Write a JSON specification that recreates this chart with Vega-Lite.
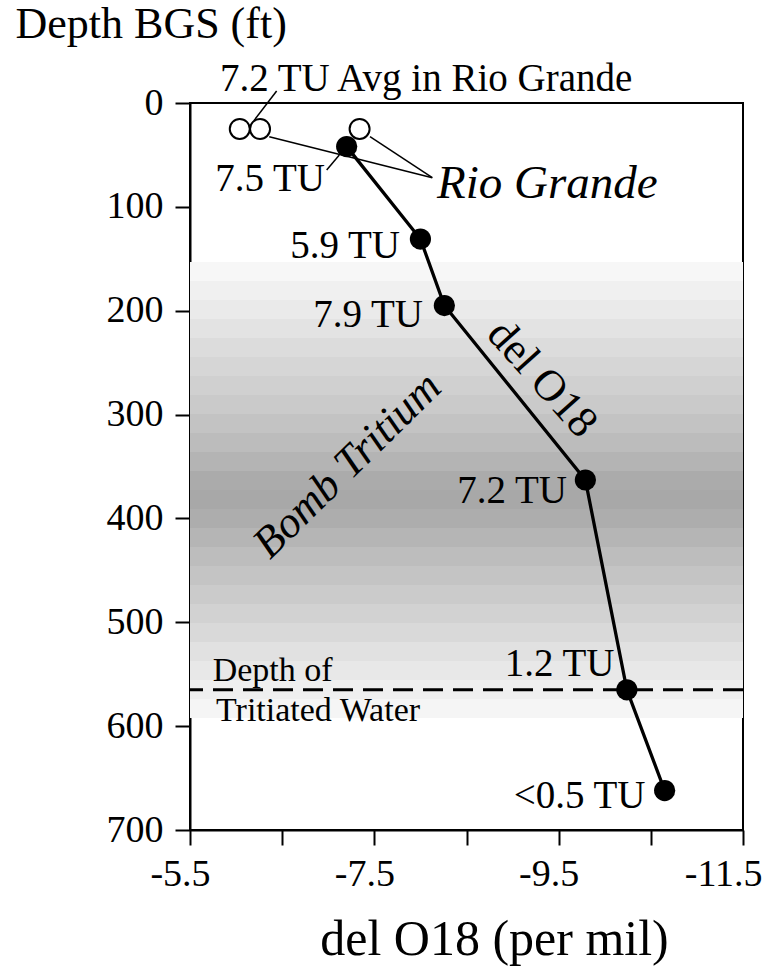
{
  "$schema": "https://vega.github.io/schema/vega-lite/v6.json",
  "autosize": {"type": "none"},
  "width": 553,
  "height": 727,
  "padding": {"left": 190, "top": 103, "right": 22, "bottom": 140},
  "background": "white",
  "config": {
    "view": {"stroke": "black", "strokeWidth": 2},
    "font": "Liberation Serif",
    "axis": {"grid": false, "domainColor": "black", "domainWidth": 2, "tickColor": "black", "tickWidth": 2, "tickSize": 15, "labelColor": "black", "titleColor": "black", "labelFont": "Liberation Serif", "titleFont": "Liberation Serif", "titleFontWeight": "normal"}
  },
  "datasets": {
    "band": [
      {"depth": 153.0, "depth2": 171.3, "intensity": 0.0},
      {"depth": 171.3, "depth2": 189.6, "intensity": 0.09},
      {"depth": 189.6, "depth2": 207.9, "intensity": 0.16},
      {"depth": 207.9, "depth2": 226.2, "intensity": 0.25},
      {"depth": 226.2, "depth2": 244.5, "intensity": 0.34},
      {"depth": 244.5, "depth2": 262.8, "intensity": 0.42},
      {"depth": 262.8, "depth2": 281.1, "intensity": 0.49},
      {"depth": 281.1, "depth2": 299.4, "intensity": 0.57},
      {"depth": 299.4, "depth2": 317.7, "intensity": 0.66},
      {"depth": 317.7, "depth2": 336.0, "intensity": 0.75},
      {"depth": 336.0, "depth2": 354.3, "intensity": 0.85},
      {"depth": 354.3, "depth2": 372.6, "intensity": 0.96},
      {"depth": 372.6, "depth2": 390.9, "intensity": 1.0},
      {"depth": 390.9, "depth2": 409.2, "intensity": 0.94},
      {"depth": 409.2, "depth2": 427.5, "intensity": 0.84},
      {"depth": 427.5, "depth2": 445.8, "intensity": 0.73},
      {"depth": 445.8, "depth2": 464.1, "intensity": 0.65},
      {"depth": 464.1, "depth2": 482.4, "intensity": 0.56},
      {"depth": 482.4, "depth2": 500.7, "intensity": 0.47},
      {"depth": 500.7, "depth2": 519.0, "intensity": 0.38},
      {"depth": 519.0, "depth2": 537.3, "intensity": 0.28},
      {"depth": 537.3, "depth2": 555.6, "intensity": 0.19},
      {"depth": 555.6, "depth2": 573.9, "intensity": 0.10},
      {"depth": 573.9, "depth2": 592.2, "intensity": 0.03}
    ],
    "profile": [
      {"o18": -7.20, "depth": 42},
      {"o18": -8.00, "depth": 131},
      {"o18": -8.26, "depth": 195},
      {"o18": -9.79, "depth": 363},
      {"o18": -10.24, "depth": 565},
      {"o18": -10.65, "depth": 662}
    ],
    "river": [
      {"o18": -6.04, "depth": 25},
      {"o18": -6.26, "depth": 25},
      {"o18": -7.34, "depth": 25}
    ],
    "tritiumDepth": [{"depth": 565}],
    "leaders": [
      {"o18": -6.44, "depth": -11.6, "o18b": -6.194, "depthb": 17.0},
      {"o18": -6.983, "depth": 64.5, "o18b": -7.12, "depthb": 50.1},
      {"o18": -8.129, "depth": 71.9, "o18b": -6.36, "depthb": 32.4},
      {"o18": -8.129, "depth": 71.9, "o18b": -7.453, "depthb": 32.4}
    ],
    "tuLabels": [
      {"o18": -6.965, "depth": 84.7, "label": "7.5 TU"},
      {"o18": -7.778, "depth": 149.2, "label": "5.9 TU"},
      {"o18": -8.028, "depth": 215.2, "label": "7.9 TU"},
      {"o18": -9.59, "depth": 385.1, "label": "7.2 TU"},
      {"o18": -10.106, "depth": 552.2, "label": "1.2 TU"},
      {"o18": -10.442, "depth": 678.8, "label": "<0.5 TU"}
    ],
    "avgLabel": [{"o18": -5.825, "depth": -11.6, "label": "7.2 TU Avg in Rio Grande"}],
    "riverLabel": [{"o18": -8.18, "depth": 91.5, "label": "Rio Grande"}],
    "depthNote": [
      {"o18": -5.746, "depth": 557, "label": "Depth of"},
      {"o18": -5.782, "depth": 595.5, "label": "Tritiated Water"}
    ],
    "bombLabel": [{"o18": -7.309, "depth": 358.2, "label": "Bomb Tritium"}],
    "lineLabel": [{"o18": -9.213, "depth": 274.1, "label": "del O18"}]
  },
  "layer": [
    {
      "data": {"name": "band"},
      "mark": {"type": "rect"},
      "encoding": {
        "x": {"datum": -5.5, "type": "quantitative"},
        "x2": {"datum": -11.5},
        "y": {"field": "depth", "type": "quantitative"},
        "y2": {"field": "depth2"},
        "color": {"field": "intensity", "type": "quantitative", "scale": {"domain": [0, 1], "range": ["#f7f7f7", "#a8a8a8"], "interpolate": "rgb"}, "legend": null}
      }
    },
    {
      "data": {"name": "tritiumDepth"},
      "mark": {"type": "rule", "color": "black", "strokeWidth": 3, "strokeDash": [20, 10]},
      "encoding": {"y": {"field": "depth", "type": "quantitative"}}
    },
    {
      "data": {"name": "leaders"},
      "mark": {"type": "rule", "color": "black", "strokeWidth": 1.5},
      "encoding": {
        "x": {"field": "o18", "type": "quantitative"},
        "y": {"field": "depth", "type": "quantitative"},
        "x2": {"field": "o18b"},
        "y2": {"field": "depthb"}
      }
    },
    {
      "data": {"name": "profile"},
      "mark": {"type": "line", "color": "black", "strokeWidth": 3.3},
      "encoding": {
        "x": {"field": "o18", "type": "quantitative", "title": "del O18 (per mil)",
          "scale": {"domain": [-11.5, -5.5], "reverse": true, "nice": false, "zero": false},
          "axis": {"values": [-5.5, -6.5, -7.5, -8.5, -9.5, -10.5, -11.5],
            "labelExpr": "indexof([-5.5, -7.5, -9.5, -11.5], datum.value) >= 0 ? '-' + format(-datum.value, '.1f') : ''",
            "labelFontSize": 38, "labelPadding": 10, "labelFlush": false, "labelOverlap": false,
            "labelAlign": {"condition": {"test": "datum.value < -11", "value": "right"}, "value": "center"},
            "labelOffset": {"condition": {"test": "datum.value < -11", "value": 19}, "value": -10},
            "titleFontSize": 50, "titleX": 304, "titleY": 124, "titleBaseline": "alphabetic", "titleAlign": "center"}},
        "y": {"field": "depth", "type": "quantitative", "title": "Depth BGS (ft)",
          "scale": {"domain": [0, 700], "reverse": true, "nice": false, "zero": false},
          "axis": {"values": [0, 100, 200, 300, 400, 500, 600, 700], "format": "d",
            "labelFontSize": 38, "labelPadding": 12, "labelFlush": false, "labelOverlap": false,
            "titleFontSize": 44, "titleAngle": 0, "titleAlign": "left", "titleBaseline": "alphabetic", "titleX": -175, "titleY": -66}},
        "order": {"field": "depth", "type": "quantitative"}
      }
    },
    {
      "data": {"name": "river"},
      "mark": {"type": "point", "shape": "circle", "filled": true, "fill": "white", "stroke": "black", "strokeWidth": 2, "size": 400, "opacity": 1},
      "encoding": {
        "x": {"field": "o18", "type": "quantitative"},
        "y": {"field": "depth", "type": "quantitative"}
      }
    },
    {
      "data": {"name": "profile"},
      "mark": {"type": "point", "shape": "circle", "filled": true, "color": "black", "size": 450, "opacity": 1},
      "encoding": {
        "x": {"field": "o18", "type": "quantitative"},
        "y": {"field": "depth", "type": "quantitative"}
      }
    },
    {
      "data": {"name": "tuLabels"},
      "mark": {"type": "text", "font": "Liberation Serif", "fontSize": 39, "align": "right", "baseline": "alphabetic", "color": "black"},
      "encoding": {
        "x": {"field": "o18", "type": "quantitative"},
        "y": {"field": "depth", "type": "quantitative"},
        "text": {"field": "label"}
      }
    },
    {
      "data": {"name": "avgLabel"},
      "mark": {"type": "text", "font": "Liberation Serif", "fontSize": 39, "align": "left", "baseline": "alphabetic", "color": "black", "clip": false},
      "encoding": {
        "x": {"field": "o18", "type": "quantitative"},
        "y": {"field": "depth", "type": "quantitative"},
        "text": {"field": "label"}
      }
    },
    {
      "data": {"name": "riverLabel"},
      "mark": {"type": "text", "font": "Liberation Serif", "fontSize": 47, "fontStyle": "italic", "align": "left", "baseline": "alphabetic", "color": "black"},
      "encoding": {
        "x": {"field": "o18", "type": "quantitative"},
        "y": {"field": "depth", "type": "quantitative"},
        "text": {"field": "label"}
      }
    },
    {
      "data": {"name": "depthNote"},
      "mark": {"type": "text", "font": "Liberation Serif", "fontSize": 34, "align": "left", "baseline": "alphabetic", "color": "black"},
      "encoding": {
        "x": {"field": "o18", "type": "quantitative"},
        "y": {"field": "depth", "type": "quantitative"},
        "text": {"field": "label"}
      }
    },
    {
      "data": {"name": "bombLabel"},
      "mark": {"type": "text", "font": "Liberation Serif", "fontSize": 44, "fontStyle": "italic", "align": "center", "baseline": "alphabetic", "angle": -44.5, "color": "black"},
      "encoding": {
        "x": {"field": "o18", "type": "quantitative"},
        "y": {"field": "depth", "type": "quantitative"},
        "text": {"field": "label"}
      }
    },
    {
      "data": {"name": "lineLabel"},
      "mark": {"type": "text", "font": "Liberation Serif", "fontSize": 44, "align": "center", "baseline": "alphabetic", "angle": 48, "color": "black"},
      "encoding": {
        "x": {"field": "o18", "type": "quantitative"},
        "y": {"field": "depth", "type": "quantitative"},
        "text": {"field": "label"}
      }
    }
  ]
}
